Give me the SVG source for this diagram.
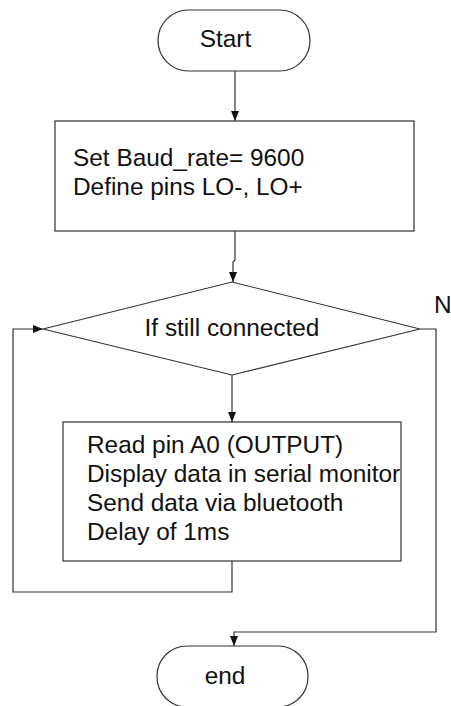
<svg xmlns="http://www.w3.org/2000/svg" width="451" height="706" viewBox="0 0 451 706">
<style>
.s{fill:#fff;stroke:#333;stroke-width:1.2}
.c{fill:none;stroke:#333;stroke-width:1.2}
text{font-family:"Liberation Sans",Arial,sans-serif;font-size:24.4px;fill:#111}
</style>
<defs>
<marker id="a" markerWidth="10" markerHeight="10" viewBox="0 0 10 10" refX="10" refY="5" orient="auto" markerUnits="userSpaceOnUse">
<path d="M0,1 L10,5 L0,9 Z" fill="#111"/>
</marker>
</defs>
<rect width="451" height="706" fill="#fff"/>
<g id="connectors">
<path class="c" d="M235,71 V121" marker-end="url(#a)"/>
<path class="c" d="M235,231 V260 L233,262 V282" marker-end="url(#a)"/>
<path class="c" d="M232,375 V422" marker-end="url(#a)"/>
<path class="c" d="M232,561 V592 H13 V329 H43" marker-end="url(#a)"/>
<path class="c" d="M420,329 H436 V632 H234 V646" marker-end="url(#a)"/>
<text x="434" y="313">N</text>
</g>
<g id="start">
<rect class="s" x="158" y="10" width="152" height="61" rx="30.5"/>
<text x="225.5" y="47" text-anchor="middle">Start</text>
</g>
<g id="init">
<rect class="s" x="55" y="121" width="359" height="110"/>
<text x="73" y="166">Set Baud_rate= 9600</text>
<text x="73" y="195">Define pins LO-, LO+</text>
</g>
<g id="decision">
<polygon class="s" points="232,282 420,329 232,375 43,329"/>
<text x="232" y="336" text-anchor="middle">If still connected</text>
</g>
<g id="process">
<rect class="s" x="63" y="422" width="338" height="139"/>
<text x="87" y="453">Read pin A0 (OUTPUT)</text>
<text x="87" y="482">Display data in serial monitor</text>
<text x="87" y="511">Send data via bluetooth</text>
<text x="87" y="540">Delay of 1ms</text>
</g>
<g id="end">
<rect class="s" x="157" y="646" width="151" height="61" rx="30"/>
<text x="225" y="684" text-anchor="middle">end</text>
</g>
</svg>
